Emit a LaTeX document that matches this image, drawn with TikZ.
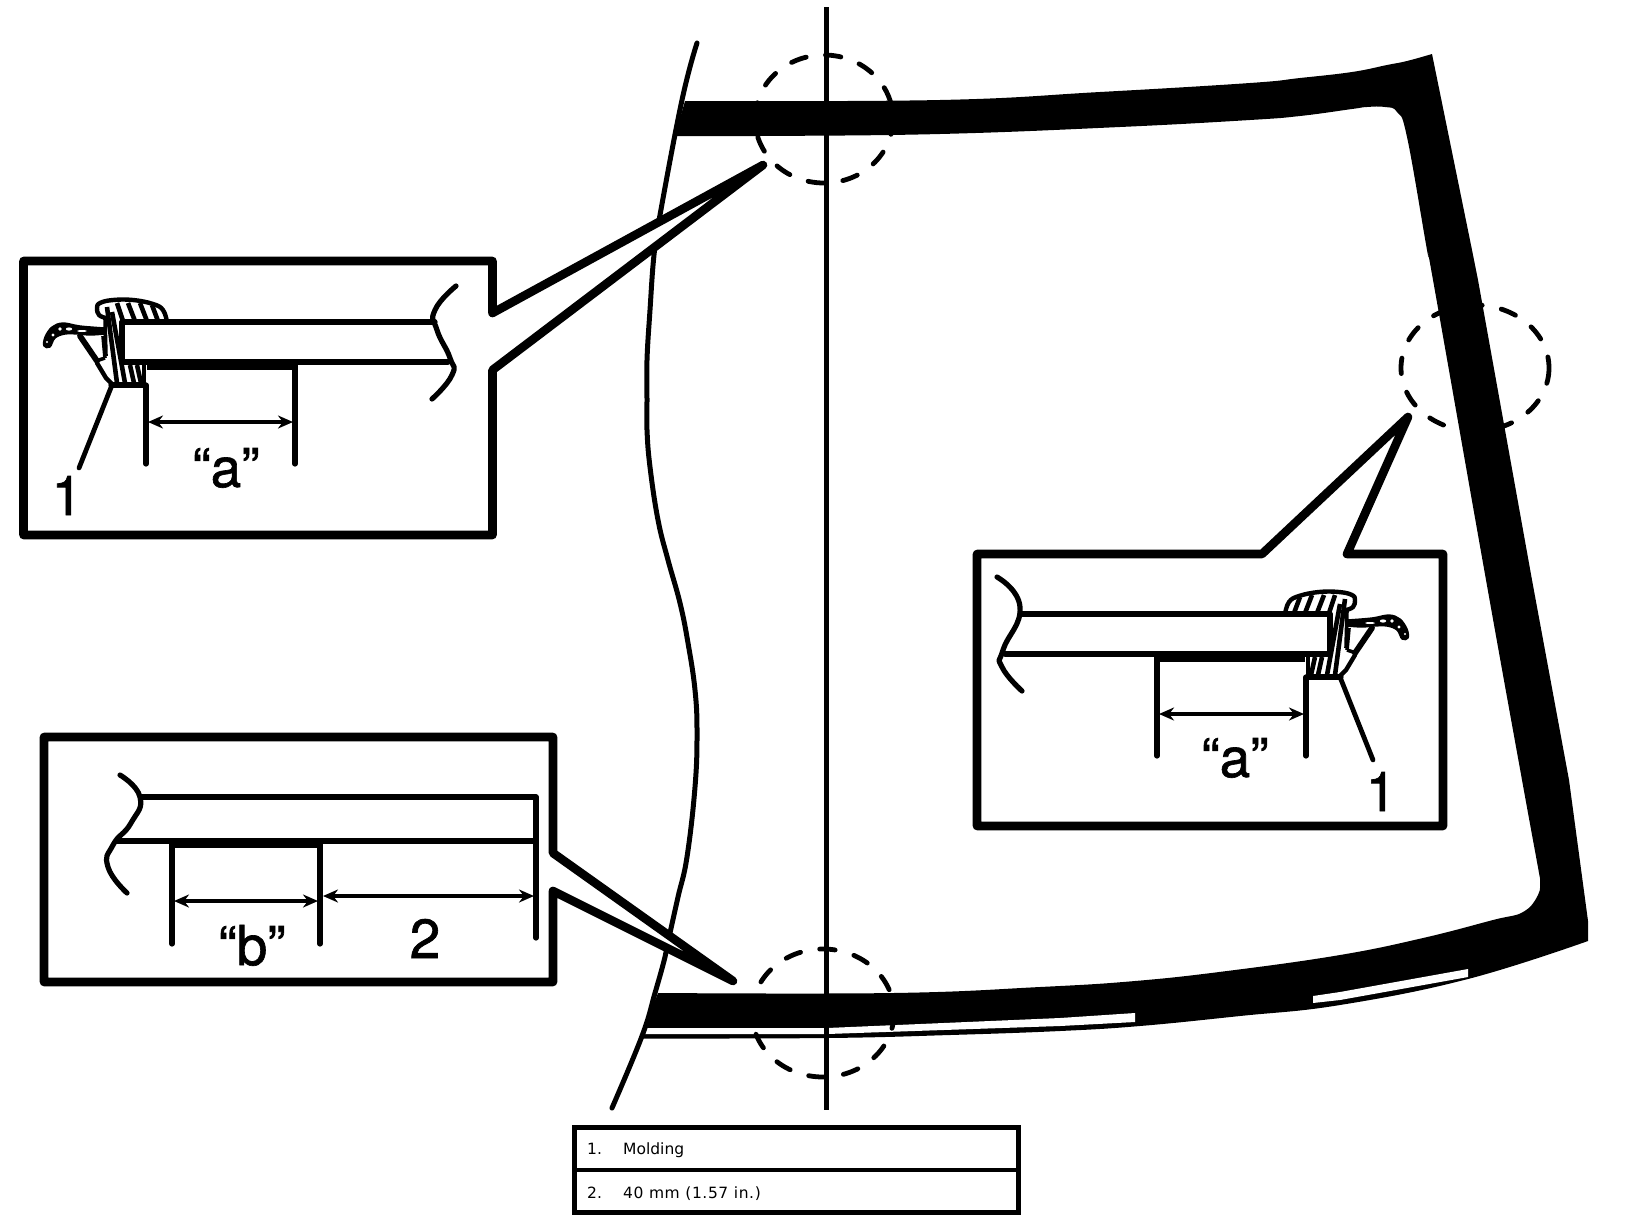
\documentclass[tikz,border=0pt]{standalone}
\usepackage{fontspec}
\setmainfont{TeX Gyre Heros}
\newfontfamily\bigfont{TeX Gyre Heros}[FakeBold=1.2]
\newfontfamily\tablefont{DejaVu Sans}
\usetikzlibrary{arrows.meta}
\tikzset{
  thinline/.style={line width=5.2pt,line cap=round,line join=round},
  edgeline/.style={line width=5pt,line cap=round,line join=round},
  framebox/.style={line width=8.6pt,line join=round,fill=white},
  dashcircle/.style={line width=4.8pt,line cap=round,dash pattern=on 15.5pt off 19.5pt},
  dimline/.style={line width=4.6pt,{Stealth[length=15pt,width=13pt]}-{Stealth[length=15pt,width=13pt]}},
  bigtext/.style={font=\bigfont\fontsize{55}{55}\selectfont,anchor=base,inner sep=0pt},
  tabletext/.style={font=\tablefont\fontsize{15.5}{16}\selectfont,anchor=base west,inner sep=0pt},
}
\newcommand{\moldingpart}{%
  % lobe
  \draw[line width=4.4pt,line cap=round,line join=round] plot[smooth,tension=.7] coordinates {(167,322)(163,310)(153,304)(133,300)(113,300)(100,303)(97,308)(99,315)(106,318)};
  \foreach \a/\b/\c/\d in {117/303/123/321,128/303/135/321,140/303/147/321,152/305/158/321}
    \draw[line width=4.6pt] (\a,\b) -- (\c,\d);
  % body
  \draw[line width=4.6pt] (107,307) -- (117,383);
  \draw[line width=4.6pt] (112,312) -- (125,383);
  \draw[line width=3.6pt] (105,318) -- (106,356);
  \draw[line width=4.6pt] (130,365) -- (134,383);
  \draw[line width=4.6pt] (137,365) -- (141,383);
  \draw[line width=5.2pt,line cap=round] (111,385) -- (145,385);
  \draw[line width=3.6pt] (144,362) -- (144,385);
  % lip
  \fill[line width=1.4pt,draw,line join=round] plot[smooth,tension=.6] coordinates {(105,328)(80,326)(63,323)(52,327)(45,337)(44,346)(50,347)(55,338)(65,334)(78,334)(90,335)(105,334)} -- cycle;
  \fill[white] (53,335) circle (1.6pt) (60,329) circle (1.8pt) (69,329) ellipse [x radius=3.2,y radius=1.6] (82,331) ellipse [x radius=5,y radius=1] (47,342) circle (1.2pt);
  \draw[line width=5.8pt,line cap=round] (80,336) -- (97,361);
  \draw[line width=4.4pt,line cap=round,line join=round] (97,363) -- (106,378) -- (112,384);
  \draw[line width=3.6pt] (103,336) -- (105,358);
  \draw[line width=3.6pt] (96,361) -- (105,358);
}
\begin{document}
\begin{tikzpicture}[x=1pt,y=-1pt]
\useasboundingbox (0,0) rectangle (1632,1224);
\fill[white] (0,0) rectangle (1632,1224);
% glass band
\fill[black] (685,101)
  -- plot[smooth,tension=.7] coordinates {(685,101)(940,100)(1100,92)(1250,83)(1300,78)(1352,72)(1387,65)(1407,61)(1432,54)}
  -- (1472,250) -- (1478,280) -- (1532,580) -- (1569,780) -- (1588,921) -- (1588,941)
  -- plot[smooth,tension=.7] coordinates {(1588,941)(1468,979)(1340,1005)(1240,1016)(1140,1026)(1060,1031)(950,1035)(827,1038)(642,1038.5)}
  -- (645,1027) -- (658,993)
  -- plot[smooth,tension=.7] coordinates {(658,993)(893,993)(1040,987)(1135,981)(1227,971)(1340,955)(1423,938)(1493,920)(1523,912)(1538,895)(1540,880)(1539,873)(1522,780)(1486,580)(1433,280)(1427,250)(1407,137)(1397,112)(1385,107)(1367,107)(1352,109)(1300,116)(1250,120)(1120,127)(940,134)(760,136)(675,136)}
  -- cycle;
\fill[white] (646,1028) -- (827,1028) -- (1060,1018) -- (1135,1013) -- (1135,1022) -- (1060,1026) -- (827,1034) -- (645,1034) -- cycle;
\fill[white] (1313,996) -- (1340,992) -- (1468,969) -- (1468,977) -- (1340,1000) -- (1313,1003) -- cycle;
% centre line and windshield edge
\draw[line width=5pt] (826.5,7) -- (826.5,1110);
\draw[edgeline] plot[smooth,tension=.7] coordinates {(697,43)(682,100)(660,215)(654,255)(650,310)(647,360)(647,400)(647,430)(650,467)(658,520)(668,560)(680,603)(688,643)(695,690)(697,733)(695,787)(687,857)(678,897)(670,933)(665,957)(655,993)(642,1036)(612,1108)};
% dashed circles
\draw[dashcircle] (824,119) ellipse [x radius=69,y radius=64];
\draw[dashcircle] (823,1013) ellipse [x radius=71,y radius=64];
\draw[dashcircle] (1475,368) ellipse [x radius=74,y radius=63];
% inset 1
\draw[framebox] (23.5,261) -- (492.5,261) -- (492.5,313) -- (763,165) -- (492.5,370) -- (492.5,535) -- (23.5,535) -- cycle;
\begin{scope}
  \draw[thinline] (122,322) -- (435,322);
  \draw[thinline] (122,322) -- (122,362) -- (448,362);
  \fill (147,360) rectangle (295,370);
  \draw[thinline] (146,385) -- (146,464);
  \draw[thinline] (295,362) -- (295,464);
  \draw[thinline] plot[smooth,tension=.9] coordinates {(456,286)(435,310)(437,330)(450,358)(452,375)(432,399)};
  \moldingpart
  \draw[line width=4.8pt,line cap=round] (112,385) -- (79,468);
  \draw[dimline] (148,422) -- (293,422);
\end{scope}
\node[bigtext] (labA) at (226,487) {“a”};
\node[bigtext] (numA) at (67,515) {1};
% inset 2
\draw[framebox] (977,554) -- (1262,554) -- (1408,417) -- (1347,554) -- (1443,554) -- (1443,826) -- (977,826) -- cycle;
\begin{scope}[shift={(1452,292)},xscale=-1]
  \draw[thinline] (122,322) -- (432,322);
  \draw[thinline] (122,322) -- (122,362) -- (447,362);
  \fill (147,360) rectangle (295,370);
  \draw[thinline] (146,385) -- (146,464);
  \draw[thinline] (295,362) -- (295,464);
  \draw[thinline] plot[smooth,tension=.9] coordinates {(455,285)(432,315)(449,358)(450,375)(430,399)};
  \moldingpart
  \draw[line width=4.8pt,line cap=round] (112,385) -- (79,468);
  \draw[dimline] (148,422) -- (293,422);
\end{scope}
\node[bigtext] (labB) at (1235,777) {“a”};
\node[bigtext] (numB) at (1381,811) {1};
% inset 3
\draw[framebox] (44,737) -- (553,737) -- (553,853) -- (733,981) -- (553,891) -- (553,982) -- (44,982) -- cycle;
\draw[thinline] (141,797) -- (536,797) -- (536,938);
\draw[line width=5.8pt] (116,841) -- (536,841);
\fill (170,840) rectangle (320,848);
\draw[thinline] (172,843) -- (172,944);
\draw[thinline] (320,843) -- (320,944);
\draw[thinline] plot[smooth,tension=.9] coordinates {(120,775)(140,797)(131,823)(113,845)(108,867)(127,893)};
\draw[dimline] (174,901) -- (318,901);
\draw[dimline] (323,896) -- (534,896);
\node[bigtext] (labC) at (252,965) {“b”};
\node[bigtext] (num2) at (425,958) {2};
% table
\draw[line width=5pt,fill=white] (574,1127) rectangle (1018.5,1212.5);
\draw[line width=4pt] (574,1170) -- (1018.5,1170);
\node[tabletext] (t1a) at (587,1154) {1.};
\node[tabletext] (t1b) at (623,1154) {Molding};
\node[tabletext] (t2a) at (587,1198) {2.};
\node[tabletext] (t2b) at (623,1198) {\addfontfeature{LetterSpace=3.9}40 mm (1.57 in.)};
\end{tikzpicture}
\end{document}
